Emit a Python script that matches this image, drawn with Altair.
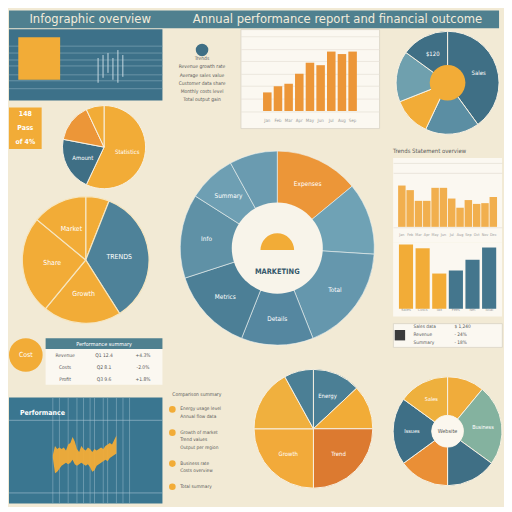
import altair as alt
import pandas as pd

# ---------------- palette ----------------
BG = "#f2ead5"
HEAD = "#4f808f"
PANEL = "#3d7189"
PANEL2 = "#3a7690"
YEL = "#f2ac37"
ORG = "#ec9638"
RUST = "#dc7a30"
DB = "#3f6f85"
MB = "#4e8299"
LB = "#6698ad"
LLB = "#74a4b6"
SAGE = "#84b29f"
INK = "#5a5a5a"
PAPER = "#fbf8f1"
FONT = "Liberation Sans Narrow, DejaVu Sans Condensed, Roboto, sans-serif"

# ---------------- data ----------------
title_texts = ["Infographic overview", "Annual performance report and financial outcome"]
title_slots = [0, 4]

kpi_domain = ["kpi", "gap1", "gap2"]
kpi_low = [21]
kpi_high = [64]
panel_levels = [55, 48, 41, 35, 26, 20, 12]
spark_idx = [0, 1, 2, 3, 4, 5]
spark_top = [43, 46, 48, 43, 51, 46]
spark_bottom = [18, 23, 28, 21, 18, 24]

badge_lines = ["148", "Pass", "of 4%"]

small_pie_vals = [57, 21, 15, 7]
small_pie_cols = [YEL, DB, ORG, YEL]
small_pie_labels = ["Statistics", "Amount", "", ""]

left_pie_vals = [6, 35, 20, 25, 14]
left_pie_cols = [YEL, MB, YEL, YEL, YEL]
left_pie_labels = ["", "TRENDS", "Growth", "Share", "Market"]

cost_label = "Cost"
table_head = "Performance summary"
table_cells = ["Revenue", "Q1 12.4", "+4.3%", "Costs", "Q2 8.1", "-2.0%", "Profit", "Q3 9.6", "+1.8%"]

band_years = list(range(1990, 2020))
band_high = [160, 190, 180, 185, 180, 185, 175, 195, 200, 220, 205, 180, 170, 190, 180,
             175, 185, 180, 170, 180, 175, 180, 185, 180, 190, 195, 200, 195, 210, 225]
band_low = [150, 100, 105, 115, 125, 130, 135, 130, 135, 145, 130, 125, 130, 135, 130,
            125, 130, 120, 105, 110, 125, 130, 135, 140, 145, 140, 150, 155, 160, 165]
band_grid = [1990, 1993, 1997, 2001, 2004, 2007, 2009, 2013, 2015, 2019, 2022, 2025]
band_edges = [35, 275]
band_title = "Performance"

legend_rows = ["Trends", "Revenue growth rate", "Average sales value",
               "Customer data share", "Monthly costs level", "Total output gain"]

top_bar_cats = ["Jan", "Feb", "Mar", "Apr", "May", "Jun", "Jul", "Aug", "Sep"]
top_bar_vals = [15, 20, 22, 30, 39, 37, 48, 46, 48]
pad_cats = [" ", "  ", "   ", "    "]

donut_vals = [14, 12, 18, 12, 14, 14, 8, 8]
donut_cols = [ORG, "#6fa2b5", "#6597ad", "#5587a0", "#4c7f96", "#5f91a6", "#6e9fb3", "#6a9bb0"]
donut_labels = ["Expenses", "", "Total", "Details", "Metrics", "Info", "Summary", ""]
donut_center = "MARKETING"

bullet_header = "Comparison summary"
bullet_dot_rows = [2, 5, 9, 12]
bullet_text_rows = [2, 3, 5, 6, 7, 9, 10, 12]
bullet_texts = ["Energy usage level", "Annual flow data", "Growth of market", "Trend values",
                "Output per region", "Business rate", "Costs overview", "Total summary"]

mid_pie_vals = [13, 12, 25, 25, 17, 8]
mid_pie_cols = ["#4b7f95", YEL, RUST, "#f2aa3a", "#f0b03e", "#4b7f95"]
mid_pie_labels = ["Energy", "", "Trend", "Growth", "", ""]

tr_pie_vals = [40, 17, 12, 16, 15]
tr_pie_cols = [DB, "#5b8ea3", YEL, "#6fa0ae", DB]
tr_pie_labels = ["Sales", "", "", "", "$120"]

panel_title = "Trends   Statement overview"
rt_cats = ["Jan", "Feb", "Mar", "Apr", "May", "Jun", "Jul", "Aug", "Sep", "Oct", "Nov", "Dec"]
rt_vals = [54, 48, 34, 34, 51, 51, 37, 25, 35, 30, 31, 39]
rb_cats = ["Sales", "Costs", "Tax", "Fees", "Net", "Total"]
rb_vals = [84, 79, 46, 50, 64, 80]
rb_cols = [YEL, YEL, YEL, "#44768d", "#44768d", "#44768d"]

key_left = ["Sales data", "Revenue", "Summary"]
key_right = ["$ 1,240", "- 24%", "- 18%"]

br_vals = [11, 24, 15, 15, 20, 15]
br_cols = ["#f0ac3b", SAGE, DB, "#ea8f36", "#3e6f86", "#eeb03d"]
br_labels = ["", "Business", "", "", "Issues", "Sales"]
br_center = "Website"


# ---------------- helpers ----------------
def view(fill, stroke=None):
    if stroke:
        return alt.ViewBackground(fill=fill, stroke=stroke, strokeWidth=0.8)
    return alt.ViewBackground(fill=fill)


def resolve(c):
    return c.resolve_scale(color="independent", theta="independent",
                           x="independent", y="independent")


def H(*charts, spacing=4):
    return resolve(alt.hconcat(*charts, spacing=spacing))


def V(*charts, spacing=4):
    return resolve(alt.vconcat(*charts, spacing=spacing))


def pie_layers(vals, cols, outer, inner=0, labels=None, lab_r=0, lab_size=6,
               lab_color="white", stroke="#f7f1e3", sw=1.0):
    n = len(vals)
    keys = [f"s{i}" for i in range(n)]
    df = pd.DataFrame({"k": keys, "v": vals, "i": list(range(n)),
                       "lab": labels if labels else [""] * n})
    base = alt.Chart(df).encode(theta=alt.Theta("v:Q", stack=True), order=alt.Order("i:Q"))
    arcs = base.mark_arc(outerRadius=outer, innerRadius=inner, stroke=stroke, strokeWidth=sw).encode(
        color=alt.Color("k:N", scale=alt.Scale(domain=keys, range=cols), legend=None))
    out = [arcs]
    if labels:
        out.append(base.mark_text(radius=lab_r, fontSize=lab_size, color=lab_color, font=FONT).encode(
            text="lab:N"))
    return out


ONE = pd.DataFrame({"v": [1]})


def disc(r, color, **kw):
    return alt.Chart(ONE).mark_arc(outerRadius=r, theta=0, theta2=6.2832, **kw).encode(
        color=alt.value(color))


def label(text, **kw):
    return alt.Chart(pd.DataFrame({"t": [text]})).mark_text(font=FONT, **kw).encode(text="t:N")


# ---------------- header ----------------
header = alt.Chart(pd.DataFrame({"slot": title_slots, "t": title_texts})).mark_text(
    align="left", baseline="middle", fontSize=13, color="#f3ecdb", font=FONT).encode(
    x=alt.X("slot:O", scale=alt.Scale(domain=list(range(12))), axis=None),
    text="t:N").properties(width=495, height=18, view=view(HEAD))

# ---------------- column A ----------------
ysc = alt.Scale(domain=[0, 72])
a1_grid = alt.Chart(pd.DataFrame({"lvl": panel_levels})).mark_rule(
    color="#7ea4b5", strokeWidth=0.7).encode(y=alt.Y("lvl:Q", scale=ysc, axis=None))
a1_sq = alt.Chart(pd.DataFrame({"cat": ["kpi"], "lo": kpi_low, "hi": kpi_high})).mark_bar(
    color=YEL).encode(
    x=alt.X("cat:N", scale=alt.Scale(domain=kpi_domain, paddingInner=0.1, paddingOuter=0.2), axis=None),
    y=alt.Y("hi:Q", scale=ysc, axis=None), y2="lo:Q")
a1_sp = alt.Chart(pd.DataFrame({"i": spark_idx, "t": spark_top, "b": spark_bottom})).mark_rule(
    color="#d3e3ea", strokeWidth=0.9).encode(
    x=alt.X("i:Q", scale=alt.Scale(domain=[-18, 13]), axis=None),
    y=alt.Y("t:Q", scale=ysc, axis=None), y2="b:Q")
A1 = alt.layer(a1_grid, a1_sq, a1_sp).resolve_scale(x="independent").properties(
    width=155, height=72, view=view(PANEL))

badge = alt.Chart(pd.DataFrame({"r": list(range(len(badge_lines))), "t": badge_lines})).mark_text(
    color="white", fontSize=7, font=FONT, fontWeight="bold").encode(
    y=alt.Y("r:O", axis=None, scale=alt.Scale(paddingOuter=0.3)), text="t:N").properties(
    width=33, height=42, view=view(YEL))
small_pie = alt.layer(*pie_layers(small_pie_vals, small_pie_cols, 42, labels=small_pie_labels,
                                  lab_r=24, lab_size=6)).properties(width=118, height=80)
A2 = H(badge, small_pie, spacing=4)

A3 = alt.layer(*pie_layers(left_pie_vals, left_pie_cols, 64, labels=left_pie_labels, lab_r=34,
                           lab_size=7, stroke="#f6e6c0", sw=1.2)).properties(width=155, height=132)

cost = alt.layer(disc(17, YEL), label(cost_label, color="white", fontSize=7)).properties(width=34, height=34)
thead = label(table_head, color="white", fontSize=5.5).properties(width=118, height=11, view=view(HEAD))
tdf = pd.DataFrame({"t": table_cells, "c": [i % 3 for i in range(len(table_cells))],
                    "r": [i // 3 for i in range(len(table_cells))]})
tbody = alt.Chart(tdf).mark_text(fontSize=5, color=INK, font=FONT).encode(
    x=alt.X("c:O", axis=None), y=alt.Y("r:O", axis=None), text="t:N").properties(
    width=118, height=36, view=view(PAPER))
A4 = H(cost, V(thead, tbody, spacing=0), spacing=3)

xsc5 = alt.Scale(domain=[1973.7, 2035.2])
ysc5 = alt.Scale(domain=[0, 320])
bdf = pd.DataFrame({"yr": band_years, "hi": band_high, "lo": band_low})
a5_vgrid = alt.Chart(pd.DataFrame({"g": band_grid})).mark_rule(color="#8db2c3", strokeWidth=0.6).encode(
    x=alt.X("g:Q", scale=xsc5, axis=None))
a5_hgrid = alt.Chart(pd.DataFrame({"h": band_edges})).mark_rule(color="#a9c6d3", strokeWidth=0.6).encode(
    y=alt.Y("h:Q", scale=ysc5, axis=None))
a5_area = alt.Chart(bdf).mark_area(color=YEL, opacity=0.95).encode(
    x=alt.X("yr:Q", scale=xsc5, axis=alt.Axis(values=[1992, 2001, 2010, 2019], format="d", offset=-12,
                                              domain=False, ticks=False, labelColor="#d5e5ec",
                                              labelFontSize=5, grid=False, title=None, labelFont=FONT)),
    y=alt.Y("hi:Q", scale=ysc5, axis=alt.Axis(values=[60, 100, 140, 180, 220, 260], offset=-24,
                                               domain=False, ticks=False, grid=False, labelColor="#e1ecf1",
                                               labelFontSize=5, title=None, labelFont=FONT)),
    y2="lo:Q")
a5_title = label(band_title, align="left", color="white", fontSize=7, fontWeight="bold").encode(
    x=alt.datum(1975), y=alt.datum(300))
A5 = alt.layer(a5_vgrid, a5_hgrid, a5_area, a5_title).properties(width=155, height=107, view=view(PANEL2))

colA = V(V(A1, A2, A3, spacing=3), A4, A5, spacing=12)

# ---------------- column B ----------------
lrow = alt.Scale(domain=list(range(12)))
b1_dot = alt.Chart(pd.DataFrame({"r": [2]})).mark_circle(size=160, color=DB, opacity=1).encode(
    y=alt.Y("r:O", scale=lrow, axis=None))
b1_txt = alt.Chart(pd.DataFrame({"r": [3 + i for i in range(len(legend_rows))], "t": legend_rows})).mark_text(
    fontSize=5, color=INK, font=FONT).encode(y=alt.Y("r:O", scale=lrow, axis=None), text="t:N")
B1L = alt.layer(b1_dot, b1_txt).properties(width=68, height=100)

B1R = alt.Chart(pd.DataFrame({"c": top_bar_cats, "v": top_bar_vals})).mark_bar(color=ORG).encode(
    x=alt.X("c:N", sort=None,
            scale=alt.Scale(domain=pad_cats[:2] + top_bar_cats + pad_cats[2:], paddingInner=0.2, paddingOuter=0.1),
            axis=alt.Axis(offset=-13, labelFontSize=4.5, labelColor="#9a9a9a", domain=False, ticks=False,
                          title=None, labelAngle=0, labelFont=FONT)),
    y=alt.Y("v:Q", scale=alt.Scale(domain=[-14, 66]),
            axis=alt.Axis(values=[0, 10, 20, 30, 40, 50, 60], grid=True, gridColor="#e6e1d6", gridWidth=0.7,
                          labels=False, ticks=False, domain=False, title=None))).properties(
    width=140, height=100, view=view(PAPER, "#d9d3c6"))
B1 = H(B1L, B1R, spacing=4)

B2 = alt.layer(
    *pie_layers(donut_vals, donut_cols, 98, inner=44, labels=donut_labels, lab_r=72, lab_size=6.5,
                stroke="#eef3f2", sw=0.6),
    disc(46, "#f8f4ea"),
    alt.Chart(ONE).mark_arc(outerRadius=17, theta=4.712, theta2=7.854, yOffset=2).encode(color=alt.value(YEL)),
    label(donut_center, color="#35586a", fontSize=7.5, fontWeight="bold", dy=24),
).properties(width=220, height=200)

brow = alt.Scale(domain=list(range(16)))
bslot = alt.Scale(domain=list(range(10)))
b3_head = label(bullet_header, align="left", fontSize=5, color=INK).encode(
    x=alt.X(datum=0, type="ordinal", scale=bslot, axis=None),
    y=alt.Y(datum=3, type="ordinal", scale=brow, axis=None))
b3_dots = alt.Chart(pd.DataFrame({"r": [r + 3 for r in bullet_dot_rows]})).mark_circle(
    size=45, color=YEL, opacity=1).encode(
    x=alt.X(datum=0, type="ordinal", scale=bslot, axis=None),
    y=alt.Y("r:O", scale=brow, axis=None))
b3_txt = alt.Chart(pd.DataFrame({"r": [r + 3 for r in bullet_text_rows], "t": bullet_texts})).mark_text(
    align="left", fontSize=4.8, color=INK, font=FONT).encode(
    x=alt.X(datum=1, type="ordinal", scale=bslot, axis=None),
    y=alt.Y("r:O", scale=brow, axis=None), text="t:N")
B3L = alt.layer(b3_head, b3_dots, b3_txt).properties(width=80, height=125)
B3R = alt.layer(*pie_layers(mid_pie_vals, mid_pie_cols, 60, labels=mid_pie_labels, lab_r=36,
                            lab_size=6)).properties(width=125, height=125)
B3 = H(B3L, B3R, spacing=4)

colB = V(B1, B2, B3, spacing=20)

# ---------------- column C ----------------
C1 = alt.layer(*pie_layers(tr_pie_vals, tr_pie_cols, 52, labels=tr_pie_labels, lab_r=33, lab_size=6),
               disc(18, YEL)).properties(width=110, height=108)

c2_top = alt.Chart(pd.DataFrame({"c": rt_cats, "v": rt_vals}),
                   title=alt.TitleParams(panel_title, fontSize=6, color=INK, anchor="start", offset=4,
                                         font=FONT, fontWeight="normal")).mark_bar(
    color="#f0a63c", opacity=0.9).encode(
    x=alt.X("c:N", sort=None, scale=alt.Scale(paddingInner=0.1, paddingOuter=0.6),
            axis=alt.Axis(offset=-12, labelFontSize=3.8, labelColor="#9a9a9a", domain=False, ticks=False,
                          title=None, labelAngle=0, labelFont=FONT)),
    y=alt.Y("v:Q", scale=alt.Scale(domain=[-20, 90]),
            axis=alt.Axis(values=[0, 70, 84], grid=True, gridColor="#e3ded3", gridWidth=0.7,
                          labels=False, ticks=False, domain=False, title=None))).properties(
    width=110, height=85, view=view(PAPER))
c2_bot = alt.Chart(pd.DataFrame({"c": rb_cats, "v": rb_vals})).mark_bar().encode(
    x=alt.X("c:N", sort=None, scale=alt.Scale(paddingInner=0.15, paddingOuter=0.35),
            axis=alt.Axis(offset=-11, labelFontSize=4, labelColor="#9a9a9a", domain=False, ticks=False,
                          title=None, labelAngle=0, labelFont=FONT)),
    y=alt.Y("v:Q", scale=alt.Scale(domain=[-10, 87]), axis=None),
    color=alt.Color("c:N", scale=alt.Scale(domain=rb_cats, range=rb_cols), legend=None)).properties(
    width=110, height=75, view=view(PAPER))

kx = alt.Scale(domain=list(range(8)))
ky = alt.Scale(domain=list(range(3)))
c3_icon = alt.Chart(ONE).mark_square(size=110, color="#3b3b3b", opacity=1).encode(
    x=alt.X(datum=0, type="ordinal", scale=kx, axis=None),
    y=alt.Y(datum=1, type="ordinal", scale=ky, axis=None))
c3_l = alt.Chart(pd.DataFrame({"r": list(range(len(key_left))), "t": key_left})).mark_text(
    align="left", fontSize=4.8, color=INK, font=FONT).encode(
    x=alt.X(datum=1, type="ordinal", scale=kx, axis=None), y=alt.Y("r:O", scale=ky, axis=None), text="t:N")
c3_r = alt.Chart(pd.DataFrame({"r": list(range(len(key_right))), "t": key_right})).mark_text(
    align="left", fontSize=4.8, color=INK, font=FONT).encode(
    x=alt.X(datum=4, type="ordinal", scale=kx, axis=None), y=alt.Y("r:O", scale=ky, axis=None), text="t:N")
C3 = alt.layer(c3_icon, c3_l, c3_r).properties(width=110, height=24, view=view(PAPER, "#d8d2c5"))

C4 = alt.layer(*pie_layers(br_vals, br_cols, 55, inner=16, labels=br_labels, lab_r=36, lab_size=5.5),
               disc(16, "#fbf7ee"),
               label(br_center, color=INK, fontSize=5.5)).properties(width=110, height=124)

colC = V(V(C1, V(V(c2_top, c2_bot, spacing=0), C3, spacing=6), spacing=12), C4, spacing=22)

chart = V(header, H(colA, colB, colC, spacing=5), spacing=0).properties(
    background=BG, padding=0).configure_view(strokeWidth=0)

chart.save("out.html", embed_options={"renderer": "svg", "actions": False})
